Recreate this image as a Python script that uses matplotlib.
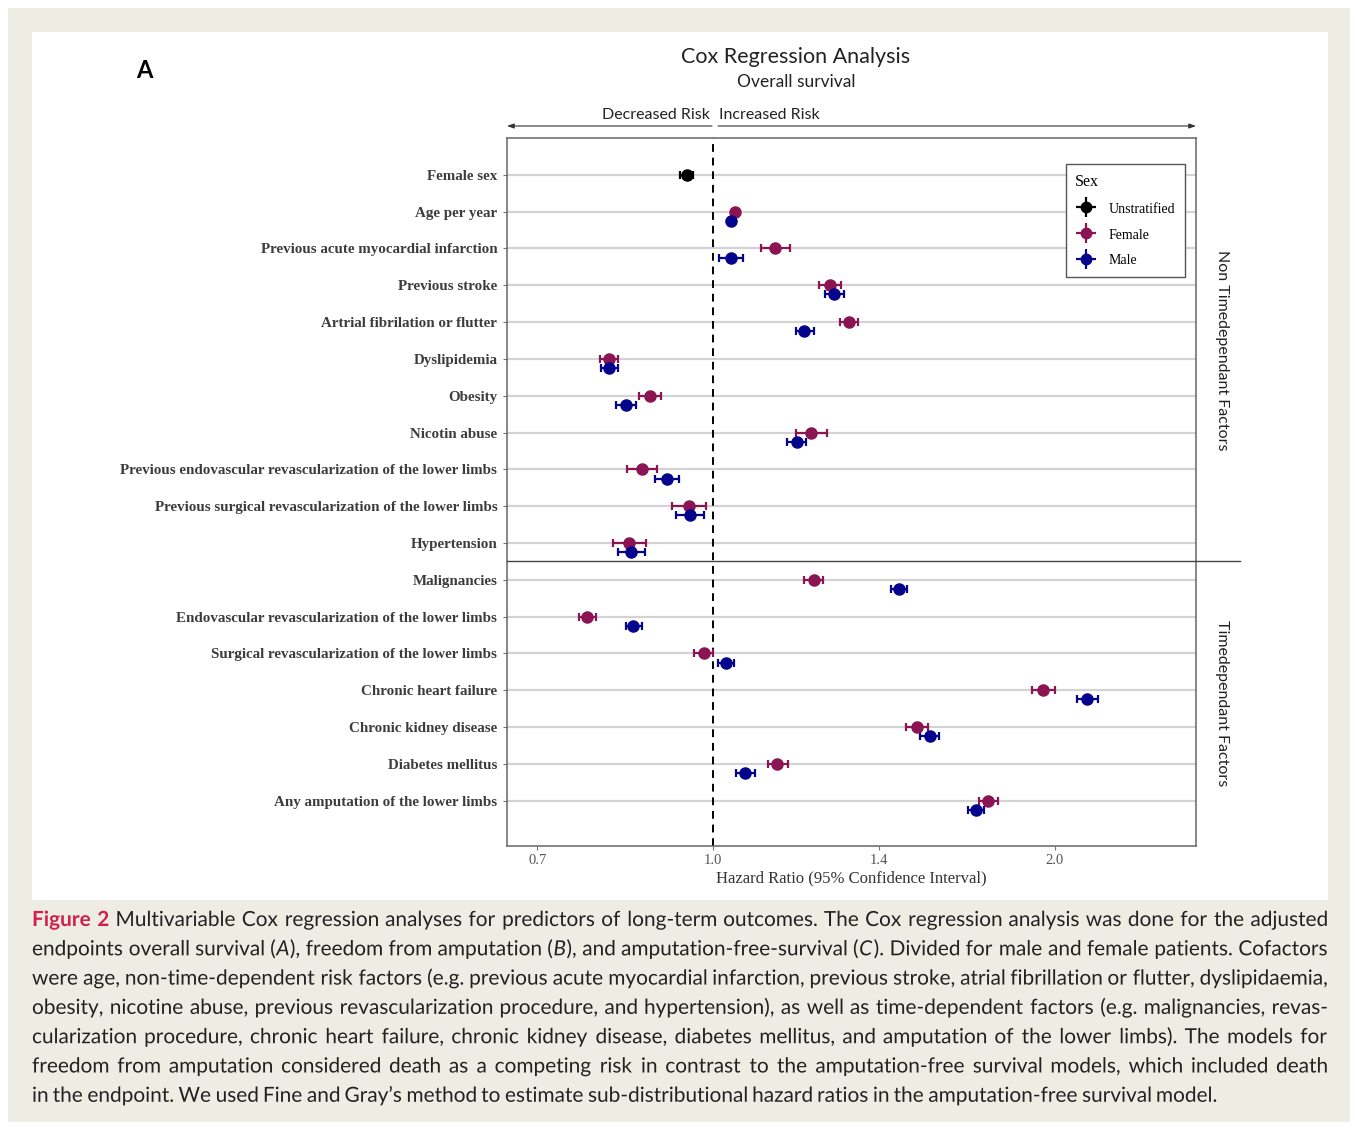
import re
import numpy as np
import matplotlib
matplotlib.use("Agg")
import matplotlib.pyplot as plt
from matplotlib.lines import Line2D
from matplotlib.patches import Rectangle, FancyArrowPatch, PathPatch
from matplotlib.legend_handler import HandlerTuple
from matplotlib.ticker import FixedLocator, NullLocator
from matplotlib.textpath import TextPath
from matplotlib.font_manager import FontProperties
from matplotlib.transforms import Affine2D

# --- data (hazard ratios with 95% CI), rows from top to bottom ---
labels = [
    "Female sex", "Age per year", "Previous acute myocardial infarction",
    "Previous stroke", "Artrial fibrilation or flutter", "Dyslipidemia",
    "Obesity", "Nicotin abuse",
    "Previous endovascular revascularization of the lower limbs",
    "Previous surgical revascularization of the lower limbs",
    "Hypertension", "Malignancies",
    "Endovascular revascularization of the lower limbs",
    "Surgical revascularization of the lower limbs",
    "Chronic heart failure", "Chronic kidney disease",
    "Diabetes mellitus", "Any amputation of the lower limbs",
]

# unstratified only exists for "Female sex"
unstrat_hr = [0.948]
unstrat_lo = [0.935]
unstrat_hi = [0.960]

# female / male: rows 1..17
female_hr = [1.046, 1.134, 1.267, 1.316, 0.809, 0.880, 1.220, 0.866, 0.952, 0.843,
             1.226, 0.774, 0.981, 1.954, 1.513, 1.139, 1.747]
female_lo = [1.041, 1.102, 1.240, 1.293, 0.794, 0.860, 1.183, 0.840, 0.920, 0.816,
             1.203, 0.761, 0.962, 1.908, 1.480, 1.117, 1.715]
female_hi = [1.051, 1.169, 1.296, 1.341, 0.824, 0.900, 1.260, 0.893, 0.986, 0.872,
             1.249, 0.789, 1.000, 2.001, 1.545, 1.163, 1.781]

male_hr = [1.037, 1.037, 1.279, 1.203, 0.810, 0.838, 1.185, 0.910, 0.954, 0.847,
           1.459, 0.850, 1.026, 2.137, 1.552, 1.067, 1.703]
male_lo = [1.032, 1.012, 1.254, 1.183, 0.796, 0.821, 1.162, 0.888, 0.928, 0.824,
           1.435, 0.837, 1.009, 2.092, 1.520, 1.048, 1.677]
male_hi = [1.042, 1.063, 1.305, 1.226, 0.824, 0.855, 1.208, 0.933, 0.981, 0.871,
           1.482, 0.865, 1.044, 2.185, 1.582, 1.088, 1.732]

x_ticks = [0.7, 1.0, 1.4, 2.0]
x_tick_labels = ["0.7", "1.0", "1.4", "2.0"]

caption_lines = [
    "^Figure^ ^2^ Multivariable Cox regression analyses for predictors of long-term outcomes. The Cox regression analysis was done for the adjusted",
    "endpoints overall survival (*A*), freedom from amputation (*B*), and amputation-free-survival (*C*). Divided for male and female patients. Cofactors",
    "were age, non-time-dependent risk factors (e.g. previous acute myocardial infarction, previous stroke, atrial fibrillation or flutter, dyslipidaemia,",
    "obesity, nicotine abuse, previous revascularization procedure, and hypertension), as well as time-dependent factors (e.g. malignancies, revas-",
    "cularization procedure, chronic heart failure, chronic kidney disease, diabetes mellitus, and amputation of the lower limbs). The models for",
    "freedom from amputation considered death as a competing risk in contrast to the amputation-free survival models, which included death",
    "in the endpoint. We used Fine and Gray\u2019s method to estimate sub-distributional hazard ratios in the amputation-free survival model.",
]

c_unstrat = "#000000"
c_female = "#8b1552"
c_male = "#03038c"

W, H = 1355, 1129
fig = plt.figure(figsize=(W / 100, H / 100), dpi=100, facecolor="white")


def fx(px):
    return px / W


def fy(py):
    return 1 - py / H


# page background and white figure panel
fig.patches.append(Rectangle((fx(8), fy(1122)), fx(1342), (1114) / H,
                             transform=fig.transFigure, facecolor="#eeede3",
                             edgecolor="none", zorder=-3))
fig.patches.append(Rectangle((fx(32), fy(900)), fx(1296), (868) / H,
                             transform=fig.transFigure, facecolor="white",
                             edgecolor="none", zorder=-2))

ax = fig.add_axes([fx(507), fy(846), fx(1196 - 507), (846 - 138) / H])
ax.set_facecolor("white")

rows = np.arange(len(labels))
male_off = 0.25

# gridlines per row
for r in rows:
    ax.axhline(r, color="#d3d3d3", lw=1.6, zorder=0)
ax.axvline(1.0, color="black", ls=(0, (4, 3)), lw=1.4, zorder=1)

eb_kw = dict(fmt="o", ms=8, capsize=3.2, elinewidth=1.6, capthick=1.6, zorder=3)
uh = np.array(unstrat_hr)
ax.errorbar(uh, rows[:1], xerr=[uh - np.array(unstrat_lo), np.array(unstrat_hi) - uh],
            color=c_unstrat, **eb_kw)
fh = np.array(female_hr)
ax.errorbar(fh, rows[1:], xerr=[fh - np.array(female_lo), np.array(female_hi) - fh],
            color=c_female, **eb_kw)
mh = np.array(male_hr)
ax.errorbar(mh, rows[1:] + male_off, xerr=[mh - np.array(male_lo), np.array(male_hi) - mh],
            color=c_male, **eb_kw)

ax.set_xscale("log")
ax.set_xlim(0.658, 2.664)
ax.set_ylim(18.23, -1.0)
ax.xaxis.set_major_locator(FixedLocator(x_ticks))
ax.xaxis.set_minor_locator(NullLocator())
ax.set_xticklabels(x_tick_labels, family="Liberation Serif", fontsize=10.5, color="#555555")
ax.set_yticks(rows)
ax.set_yticklabels(labels, family="Liberation Serif", fontweight="bold",
                   fontsize=10.8, color="#3c3c3c")
ax.tick_params(axis="both", length=3, color="#777777", width=0.8)
ax.tick_params(axis="y", pad=4)
ax.tick_params(axis="x", pad=3)
for s in ax.spines.values():
    s.set_color("#666666")
    s.set_linewidth(1.1)
ax.set_xlabel("Hazard Ratio (95% Confidence Interval)", family="Liberation Serif",
              fontsize=12, color="#333333", labelpad=2)

# separator between non-time-dependent and time-dependent factors
ax.plot([0, (1240 - 507) / (1196 - 507)], [10.5, 10.5], transform=ax.get_yaxis_transform(),
        color="#444444", lw=1.0, clip_on=False, zorder=4)

# facet strip labels
strip_x = (1222 - 507) / (1196 - 507)
ax.text(strip_x, 4.76, "Non Timedependant Factors", transform=ax.get_yaxis_transform(),
        rotation=-90, ha="center", va="center", family="Lato", fontsize=11.5, color="#222222")
ax.text(strip_x, 14.35, "Timedependant Factors", transform=ax.get_yaxis_transform(),
        rotation=-90, ha="center", va="center", family="Lato", fontsize=11.5, color="#222222")

# legend
handles = []
for c in [c_unstrat, c_female, c_male]:
    handles.append((Line2D([], [], marker="+", ms=15, mew=1.6, ls="none", color=c),
                    Line2D([], [], marker="o", ms=7.5, ls="none", color=c)))
leg = ax.legend(handles, ["Unstratified", "Female", "Male"], title="Sex",
                handler_map={tuple: HandlerTuple(ndivide=1)},
                loc="upper right", bbox_to_anchor=((1185 - 507) / 689, 1 - (164 - 138) / 708),
                borderaxespad=0, fancybox=False, framealpha=1, edgecolor="#555555",
                prop={"family": "Liberation Serif", "size": 10},
                title_fontproperties={"family": "Liberation Serif", "size": 11.5},
                handlelength=1.6, handleheight=1.2, labelspacing=0.8, borderpad=0.7,
                handletextpad=0.8)
leg._legend_box.align = "left"
leg.get_frame().set_linewidth(1.0)

# titles and risk arrows
fig.text(fx(144), fy(71), "A", family="Lato", fontweight="bold", fontsize=17,
         ha="center", va="center", color="black")
fig.text(fx(796), fy(57), "Cox Regression Analysis", family="Lato", fontsize=15.5,
         ha="center", va="center", color="#222222")
fig.text(fx(796), fy(82), "Overall survival", family="Lato", fontsize=12.5,
         ha="center", va="center", color="#222222")
fig.text(fx(710), fy(115), "Decreased Risk", family="Lato", fontsize=11.5,
         ha="right", va="center", color="#222222")
fig.text(fx(719), fy(115), "Increased Risk", family="Lato", fontsize=11.5,
         ha="left", va="center", color="#222222")
arrow_kw = dict(arrowstyle="-|>,head_length=0.5,head_width=0.18", mutation_scale=8,
                color="#333333", lw=0.8, shrinkA=0, shrinkB=0)
fig.patches.append(FancyArrowPatch((fx(712), fy(126)), (fx(507), fy(126)),
                                   transform=fig.transFigure, **arrow_kw))
fig.patches.append(FancyArrowPatch((fx(718), fy(126)), (fx(1196), fy(126)),
                                   transform=fig.transFigure, **arrow_kw))

# caption: justified lines, glyphs drawn as text paths so every word shares one baseline
cap_left, cap_right = 32, 1328


def word_runs(word):
    italic, bold = False, False
    out = []
    for p in re.split(r"([*^])", word):
        if p == "*":
            italic = not italic
        elif p == "^":
            bold = not bold
        elif p:
            out.append((p, italic, bold))
    return out


def measure_line(line, size_pt):
    px = size_pt * 100 / 72
    words = []
    for w in line.split(" "):
        runs = []
        for txt, it, bd in word_runs(w):
            prop = FontProperties(family="Lato", style="italic" if it else "normal",
                                  weight="bold" if bd else "normal")
            tp = TextPath((0, 0), txt, size=px, prop=prop)
            runs.append((tp, tp.get_extents().x1 + 0.06 * px, bd))
        words.append(runs)
    return words


cap_size = 16.0
while cap_size > 11:
    ok = True
    for line in caption_lines[:-1]:
        words = measure_line(line, cap_size)
        total = sum(wd for r in words for _, wd, _ in r)
        gap = (cap_right - cap_left - total) / (len(words) - 1)
        if gap < cap_size * 100 / 72 * 0.17:
            ok = False
            break
    if ok:
        break
    cap_size -= 0.25

for i, line in enumerate(caption_lines):
    base = H - (926 + i * 29.3)
    words = measure_line(line, cap_size)
    widths = [sum(wd for _, wd, _ in r) for r in words]
    if i < len(caption_lines) - 1:
        gap = (cap_right - cap_left - sum(widths)) / (len(words) - 1)
    else:
        gap = cap_size * 100 / 72 * 0.2
    x = cap_left
    for runs, ww in zip(words, widths):
        for tp, wd, bd in runs:
            pp = PathPatch(tp, facecolor="#d31f4b" if bd else "#222222", lw=0,
                           transform=Affine2D().translate(x, base))
            fig.add_artist(pp)
            x += wd
        x += gap

fig.savefig("out.png", dpi=100, facecolor=fig.get_facecolor())
